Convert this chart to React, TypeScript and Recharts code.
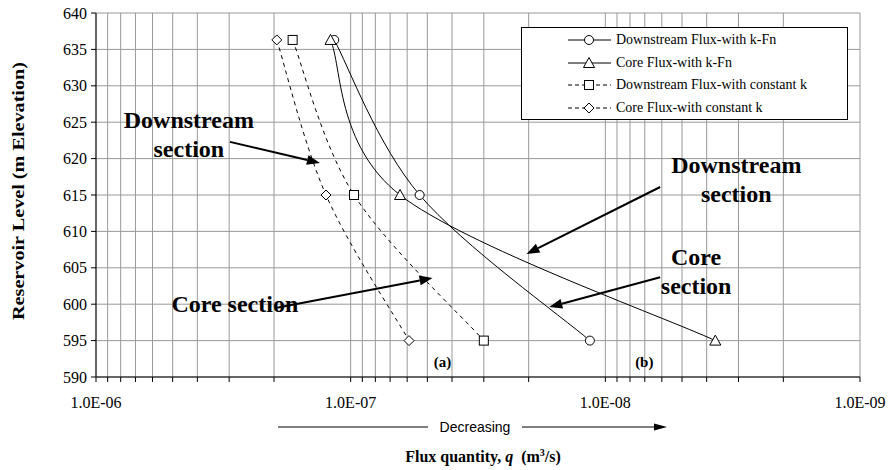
import React from "react";
import {
  LineChart,
  Line,
  XAxis,
  YAxis,
  CartesianGrid,
  Legend,
  ReferenceLine,
  ReferenceDot,
} from "recharts";

// reservoir levels (m) at which the flux was computed
const levels = [636.3, 615, 595];

// flux quantity q (m3/s) per series
const downstreamKFn = [1.16e-7, 5.36e-8, 1.15e-8];
const coreKFn = [1.2e-7, 6.4e-8, 3.7e-9];
const downstreamConstK = [1.69e-7, 9.7e-8, 3.0e-8];
const coreConstK = [1.95e-7, 1.25e-7, 5.9e-8];

const decadeTicks = [1e-6, 1e-7, 1e-8, 1e-9];
const decadeLabels = ["1.0E-06", "1.0E-07", "1.0E-08", "1.0E-09"];
const minorSteps = [2, 3, 4, 5, 6, 7, 8, 9];
const yTicks = [590, 595, 600, 605, 610, 615, 620, 625, 630, 635, 640];

// callouts, placed in data units (q, level)
const calloutTexts = [
  { lines: ["Downstream", "section"], q: 4.32e-7, level: 624.2 },
  { lines: ["Downstream", "section"], q: 3.06e-9, level: 618.0 },
  { lines: ["Core section"], q: 2.85e-7, level: 598.9 },
  { lines: ["Core", "section"], q: 4.4e-9, level: 605.4 },
];
const calloutArrows = [
  { from: [2.98e-7, 622.3], to: [1.32e-7, 619.4] },
  { from: [1.95e-7, 599.5], to: [4.77e-8, 603.6] },
  { from: [6.09e-9, 616.1], to: [2.04e-8, 606.9] },
  { from: [6.09e-9, 603.7], to: [1.66e-8, 599.6] },
];
const panelLabels = [
  { text: "(a)", q: 4.36e-8, level: 591.4 },
  { text: "(b)", q: 7.03e-9, level: 591.4 },
];

const FONT = "'Liberation Serif', 'Times New Roman', serif";

const xTicks = [
  ...decadeTicks,
  ...decadeTicks.slice(1).flatMap((d) => minorSteps.map((m) => m * d)),
].sort((a, b) => a - b);

const formatQ = (v: number) => {
  const i = decadeTicks.findIndex((d) => Math.abs(d - v) / d < 1e-6);
  return i >= 0 ? decadeLabels[i] : "";
};

// spreadsheet-style smoothed line: bezier through the points,
// tangent = (next - prev) / 6, capped at half the segment length
function smoothCurve(context: any) {
  let pts: [number, number][] = [];
  return {
    areaStart() {},
    areaEnd() {},
    lineStart() {
      pts = [];
    },
    point(x: number, y: number) {
      pts.push([+x, +y]);
    },
    lineEnd() {
      const n = pts.length;
      if (!n) return;
      context.moveTo(pts[0][0], pts[0][1]);
      for (let i = 0; i < n - 1; i++) {
        const p0 = pts[Math.max(i - 1, 0)];
        const p1 = pts[i];
        const p2 = pts[i + 1];
        const p3 = pts[Math.min(i + 2, n - 1)];
        const seg = Math.hypot(p2[0] - p1[0], p2[1] - p1[1]);
        const d02 = Math.hypot(p2[0] - p0[0], p2[1] - p0[1]) || 1;
        const d13 = Math.hypot(p3[0] - p1[0], p3[1] - p1[1]) || 1;
        const f1 = Math.min(1 / 6, seg / 2 / d02);
        const f2 = Math.min(1 / 6, seg / 2 / d13);
        context.bezierCurveTo(
          p1[0] + (p2[0] - p0[0]) * f1,
          p1[1] + (p2[1] - p0[1]) * f1,
          p2[0] - (p3[0] - p1[0]) * f2,
          p2[1] - (p3[1] - p1[1]) * f2,
          p2[0],
          p2[1]
        );
      }
    },
  };
}

type Shape = "circle" | "triangle" | "square" | "diamond";

const series: { name: string; values: number[]; shape: Shape; dashed: boolean }[] = [
  { name: "Downstream Flux-with k-Fn", values: downstreamKFn, shape: "circle", dashed: false },
  { name: "Core Flux-with k-Fn", values: coreKFn, shape: "triangle", dashed: false },
  { name: "Downstream Flux-with constant k", values: downstreamConstK, shape: "square", dashed: true },
  { name: "Core Flux-with constant k", values: coreConstK, shape: "diamond", dashed: true },
];

function Marker({ shape, cx, cy }: { shape: Shape; cx: number; cy: number }) {
  const common = { fill: "#fff", stroke: "#000", strokeWidth: 1 };
  if (shape === "circle") return <circle cx={cx} cy={cy} r={4.5} {...common} />;
  if (shape === "square") return <rect x={cx - 4.5} y={cy - 4.5} width={9} height={9} {...common} />;
  if (shape === "diamond")
    return <polygon points={`${cx},${cy - 5} ${cx + 5},${cy} ${cx},${cy + 5} ${cx - 5},${cy}`} {...common} />;
  return <polygon points={`${cx},${cy - 5.5} ${cx + 5.5},${cy + 4.5} ${cx - 5.5},${cy + 4.5}`} {...common} />;
}

const dotFor = (shape: Shape) => (props: any) => {
  const { cx, cy, index } = props;
  if (cx == null || cy == null) return <g key={index} />;
  return <Marker key={index} shape={shape} cx={cx} cy={cy} />;
};

function LegendBox() {
  return (
    <div
      style={{
        width: 327,
        height: 93,
        boxSizing: "border-box",
        border: "1px solid #000",
        background: "#fff",
        position: "relative",
        fontFamily: FONT,
        fontSize: 14,
        color: "#000",
      }}
    >
      {series.map((s, i) => (
        <div
          key={s.name}
          style={{
            position: "absolute",
            left: 0,
            top: 2 + i * 22.7,
            height: 20,
            display: "flex",
            alignItems: "center",
            whiteSpace: "nowrap",
          }}
        >
          <svg width={92} height={20} style={{ display: "block" }}>
            <line
              x1={46}
              y1={10}
              x2={89}
              y2={10}
              stroke="#000"
              strokeDasharray={s.dashed ? "4 3" : undefined}
            />
            <Marker shape={s.shape} cx={67} cy={10} />
          </svg>
          <span style={{ marginLeft: 2 }}>{s.name}</span>
        </div>
      ))}
    </div>
  );
}

function Arrow(props: any) {
  const { x1, y1, x2, y2 } = props;
  const ang = Math.atan2(y2 - y1, x2 - x1);
  const len = 13;
  const half = 5;
  const bx = x2 - len * Math.cos(ang);
  const by = y2 - len * Math.sin(ang);
  const px = -Math.sin(ang) * half;
  const py = Math.cos(ang) * half;
  return (
    <g>
      <line x1={x1} y1={y1} x2={bx} y2={by} stroke="#000" strokeWidth={2} />
      <polygon points={`${x2},${y2} ${bx + px},${by + py} ${bx - px},${by - py}`} fill="#000" />
    </g>
  );
}

function XCaption(props: any) {
  const vb = props.viewBox || {};
  const cx = vb.x + vb.width / 2;
  const y = vb.y;
  const ly = y + 50;
  return (
    <g>
      <line x1={cx - 200} y1={ly} x2={cx - 50} y2={ly} stroke="#000" strokeWidth={1} />
      <text
        x={cx - 3}
        y={ly}
        textAnchor="middle"
        dominantBaseline="central"
        fontFamily="'Liberation Sans', Arial, sans-serif"
        fontSize={14}
        fill="#000"
      >
        Decreasing
      </text>
      <line x1={cx + 44} y1={ly} x2={cx + 178} y2={ly} stroke="#000" strokeWidth={1} />
      <polygon points={`${cx + 189},${ly} ${cx + 176},${ly - 3.5} ${cx + 176},${ly + 3.5}`} fill="#000" />
      <text
        x={cx + 5}
        y={y + 85}
        textAnchor="middle"
        fontFamily={FONT}
        fontWeight="bold"
        fontSize={16}
        fill="#000"
      >
        Flux quantity,{" "}
        <tspan fontStyle="italic">q</tspan>
        {"\u00a0\u00a0(m"}
        <tspan dy={-6} fontSize={10}>
          3
        </tspan>
        <tspan dy={6}>/s)</tspan>
      </text>
    </g>
  );
}

function YCaption(props: any) {
  const vb = props.viewBox || {};
  const x = vb.x + 18;
  const y = vb.y + vb.height / 2 - 4;
  return (
    <text
      x={x}
      y={y}
      transform={`rotate(-90, ${x}, ${y})`}
      textAnchor="middle"
      dominantBaseline="central"
      fontFamily={FONT}
      fontWeight="bold"
      fontSize={16}
      textLength={258}
      lengthAdjust="spacingAndGlyphs"
      fill="#000"
    >
      Reservoir Level (m Elevation)
    </text>
  );
}

const calloutShape = (lines: string[]) => (props: any) => {
  const { cx, cy } = props;
  return (
    <text
      x={cx}
      y={cy}
      textAnchor="middle"
      fontFamily={FONT}
      fontWeight="bold"
      fontSize={24}
      fill="#000"
    >
      {lines.map((l, i) => (
        <tspan key={i} x={cx} dy={i === 0 ? 0 : 29}>
          {l}
        </tspan>
      ))}
    </text>
  );
};

const panelShape = (text: string) => (props: any) => (
  <text
    x={props.cx}
    y={props.cy}
    textAnchor="middle"
    fontFamily={FONT}
    fontWeight="bold"
    fontSize={15}
    fill="#000"
  >
    {text}
  </text>
);

export default function App() {
  return (
    <div
      style={{
        position: "absolute",
        left: 0,
        top: 0,
        width: 889,
        height: 470,
        background: "#fff",
        fontFamily: FONT,
      }}
    >
      <LineChart width={889} height={470} margin={{ top: 13, right: 29, bottom: 63, left: 0 }}>
        <CartesianGrid stroke="#999" strokeWidth={1} />
        <XAxis
          dataKey="q"
          type="number"
          scale="log"
          domain={[1e-9, 1e-6]}
          allowDataOverflow
          reversed
          ticks={xTicks}
          interval={0}
          tickFormatter={formatQ}
          tickSize={5}
          tickMargin={15}
          height={30}
          stroke="#000"
          tick={{ fill: "#000", fontSize: 16, fontFamily: FONT }}
          label={{ content: (p: any) => <XCaption {...p} /> }}
        />
        <YAxis
          type="number"
          domain={[590, 640]}
          ticks={yTicks}
          interval={0}
          width={96}
          tickSize={5}
          tickMargin={4}
          stroke="#000"
          tick={{ fill: "#000", fontSize: 16, fontFamily: FONT }}
          label={{ content: (p: any) => <YCaption {...p} /> }}
        />
        {series.map((s) => (
          <Line
            key={s.name}
            name={s.name}
            data={s.values.map((q, i) => ({ q, level: levels[i] }))}
            dataKey="level"
            type={smoothCurve as any}
            stroke="#000"
            strokeWidth={1}
            strokeDasharray={s.dashed ? "4 4" : undefined}
            dot={dotFor(s.shape)}
            activeDot={false}
            isAnimationActive={false}
          />
        ))}
        {calloutArrows.map((a, i) => (
          <ReferenceLine
            key={`arrow-${i}`}
            segment={[
              { x: a.from[0], y: a.from[1] },
              { x: a.to[0], y: a.to[1] },
            ]}
            ifOverflow="visible"
            shape={(p: any) => <Arrow {...p} />}
          />
        ))}
        {calloutTexts.map((t, i) => (
          <ReferenceDot
            key={`text-${i}`}
            x={t.q}
            y={t.level}
            r={0}
            ifOverflow="visible"
            shape={calloutShape(t.lines)}
          />
        ))}
        {panelLabels.map((p) => (
          <ReferenceDot
            key={p.text}
            x={p.q}
            y={p.level}
            r={0}
            ifOverflow="visible"
            shape={panelShape(p.text)}
          />
        ))}
        <Legend
          layout="vertical"
          align="center"
          verticalAlign="middle"
          wrapperStyle={{ left: 521, top: 27, width: 327, height: 93 }}
          content={() => <LegendBox />}
        />
      </LineChart>
    </div>
  );
}
